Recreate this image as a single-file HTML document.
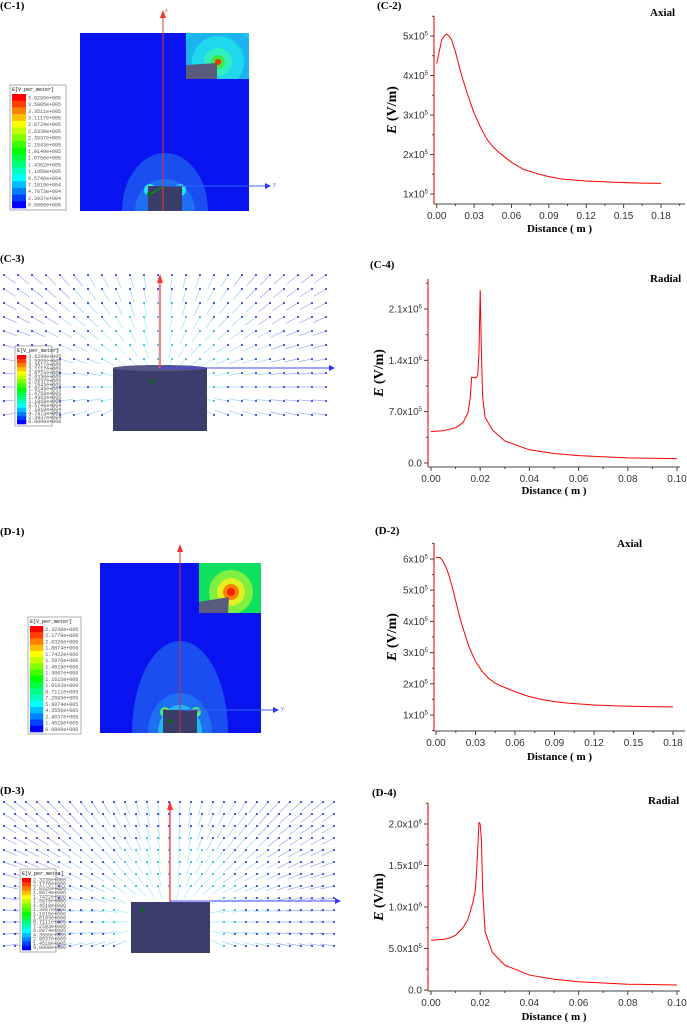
<!DOCTYPE html>
<html><head><meta charset="utf-8"><style>
html,body{margin:0;padding:0;background:#fff;}
svg{display:block;}
.tk{font-family:"Liberation Sans",sans-serif;font-size:10px;fill:#333;}
.lab{font-family:"Liberation Serif",serif;font-weight:bold;}
.lg{font-family:"Liberation Mono",monospace;font-size:5px;fill:#555;}
</style></head><body>
<svg id="fig" width="687" height="1024" viewBox="0 0 687 1024" xmlns="http://www.w3.org/2000/svg">
<defs>
<marker id="ar" markerWidth="6" markerHeight="6" refX="5" refY="3" orient="auto"><path d="M0,0 L6,3 L0,6 Z" fill="#33f"/></marker>
<clipPath id="c1"><rect x="80" y="33" width="169" height="178"/></clipPath>
<clipPath id="c1i"><rect x="186" y="33" width="63" height="46"/></clipPath>
<clipPath id="d1"><rect x="100" y="563" width="161" height="170"/></clipPath>
<clipPath id="d1i"><rect x="199" y="563" width="62" height="50"/></clipPath>
</defs>

<!-- C-1 -->
<g>
<text x="0" y="9" class="lab" font-size="11">(C-1)</text>
<rect x="80" y="33" width="169" height="178" fill="#0a14f0"/>
<g clip-path="url(#c1)">
<ellipse cx="165" cy="211" rx="43" ry="58" fill="#1a4ef0"/>
<ellipse cx="165" cy="211" rx="30" ry="32" fill="#1f6ff2"/>
<ellipse cx="150" cy="190" rx="6" ry="6" fill="#20e0ff"/>
<ellipse cx="180" cy="190" rx="6" ry="6" fill="#20e0ff"/>
<ellipse cx="150" cy="188" rx="2.5" ry="2.5" fill="#c0ff30"/>
<ellipse cx="180" cy="188" rx="2.5" ry="2.5" fill="#c0ff30"/>
<rect x="148" y="186" width="34" height="26" fill="#3a3d6a"/>
</g>
<rect x="186" y="33" width="63" height="46" fill="#18c8f0"/>
<g clip-path="url(#c1i)">
<circle cx="218" cy="62" r="38" fill="#1fa6f0" opacity="0.6"/>
<circle cx="218" cy="62" r="26" fill="#20d8ee"/>
<circle cx="218" cy="62" r="14" fill="#30f0c0"/>
<circle cx="218" cy="62" r="7" fill="#40e840"/>
<circle cx="218" cy="62" r="3" fill="#ff3000"/>
<path d="M186,65 L217,63 L217,79 L186,79 Z" fill="#5a5c7e"/>
</g>
<line x1="163" y1="211" x2="163" y2="12" stroke="#e33" stroke-width="1"/>
<path d="M160,18 L163,10 L166,18 Z" fill="#e33"/>
<text x="165" y="12" font-size="6" fill="#e33">z</text>
<line x1="163" y1="186" x2="270" y2="186" stroke="#36f" stroke-width="1" marker-end="url(#ar)"/>
<text x="273" y="186" font-size="6" fill="#36f">y</text>
<line x1="150" y1="194" x2="163" y2="187" stroke="#0a0" stroke-width="1"/>
<circle cx="149" cy="194" r="2" fill="#070"/>
<g id="leg1"></g>
</g>

<!-- C-3 -->
<g>
<text x="0" y="262" class="lab" font-size="11">(C-3)</text>
<g id="field1"></g>
<rect x="113" y="368" width="94" height="63" fill="#3b3d6d"/>
<ellipse cx="160" cy="368" rx="47" ry="3" fill="#55588a"/>
<line x1="160" y1="368" x2="160" y2="276" stroke="#f55" stroke-width="1.5"/>
<path d="M157,283 L160,274 L163,283 Z" fill="#f33"/>
<line x1="160" y1="368" x2="334" y2="368" stroke="#44f" stroke-width="1" marker-end="url(#ar)"/>
<circle cx="153" cy="381" r="1.8" fill="#070"/>
<g id="leg2"></g>
</g>

<!-- D-1 -->
<g>
<text x="0" y="535" class="lab" font-size="11">(D-1)</text>
<rect x="100" y="563" width="161" height="170" fill="#0a14f0"/>
<g clip-path="url(#d1)">
<ellipse cx="180" cy="733" rx="48" ry="92" fill="#1a4ef0"/>
<ellipse cx="180" cy="733" rx="32" ry="40" fill="#1f6ff2"/>
<ellipse cx="180" cy="733" rx="22" ry="28" fill="#1fb8f4"/>
<ellipse cx="165" cy="712" rx="5" ry="5" fill="#40f080"/>
<ellipse cx="196" cy="712" rx="5" ry="5" fill="#40f080"/>
<circle cx="165" cy="711" r="2" fill="#ff4000"/>
<circle cx="196" cy="711" r="2" fill="#ff4000"/>
<rect x="163" y="710" width="34" height="25" fill="#3a3d6a"/>
</g>
<rect x="199" y="563" width="62" height="50" fill="#10e060"/>
<g clip-path="url(#d1i)">
<circle cx="231" cy="592" r="22" fill="#80f040"/>
<circle cx="231" cy="592" r="14" fill="#e0f020"/>
<circle cx="231" cy="592" r="8" fill="#ff8000"/>
<circle cx="231" cy="592" r="4" fill="#f02000"/>
<path d="M199,602 L229,597 L228,613 L199,613 Z" fill="#5a5c7e"/>
</g>
<line x1="180" y1="733" x2="180" y2="547" stroke="#c33" stroke-width="1"/>
<path d="M177,552 L180,544 L183,552 Z" fill="#e33"/>
<line x1="180" y1="710" x2="278" y2="710" stroke="#36f" stroke-width="1" marker-end="url(#ar)"/>
<text x="281" y="710" font-size="6" fill="#36f">y</text>
<circle cx="170" cy="721" r="2" fill="#070"/>
<g id="leg3"></g>
</g>

<!-- D-3 -->
<g>
<text x="0" y="794" class="lab" font-size="11">(D-3)</text>
<g id="field2"></g>
<rect x="131" y="902" width="79" height="51" fill="#3b3d6d"/>
<line x1="170" y1="902" x2="170" y2="803" stroke="#f55" stroke-width="1.5"/>
<path d="M167,810 L170,801 L173,810 Z" fill="#f33"/>
<line x1="170" y1="901" x2="340" y2="901" stroke="#44f" stroke-width="1" marker-end="url(#ar)"/>
<circle cx="143" cy="910" r="1.8" fill="#070"/>
<g id="leg4"></g>
</g>

<g id="charts"></g>
</svg>
<script>
// ---- chart data ----
const c2X = [0,0.002,0.004,0.006,0.008,0.01,0.012,0.015,0.02,0.025,0.03,0.035,0.04,0.045,0.05,0.06,0.07,0.08,0.09,0.1,0.12,0.14,0.16,0.18];
const c2Y = [4.3,4.6,4.9,5.0,5.05,5.0,4.9,4.6,4.0,3.5,3.05,2.7,2.4,2.2,2.05,1.8,1.62,1.52,1.44,1.38,1.33,1.30,1.28,1.27];
const c4X = [0,0.005,0.01,0.013,0.015,0.016,0.0165,0.018,0.0185,0.019,0.0195,0.02,0.0205,0.021,0.022,0.025,0.03,0.04,0.05,0.06,0.08,0.1];
const c4Y = [0.43,0.44,0.48,0.55,0.68,0.9,1.17,1.16,1.17,1.2,1.5,2.35,1.5,0.9,0.62,0.45,0.30,0.18,0.13,0.1,0.07,0.06];
const d2X = [0,0.003,0.005,0.008,0.01,0.013,0.015,0.018,0.02,0.023,0.025,0.028,0.03,0.035,0.04,0.045,0.05,0.06,0.07,0.08,0.09,0.1,0.12,0.14,0.16,0.18];
const d2Y = [6.05,6.05,5.95,5.7,5.45,5.0,4.65,4.15,3.85,3.45,3.2,2.9,2.72,2.4,2.17,2.02,1.92,1.75,1.6,1.5,1.43,1.38,1.32,1.29,1.27,1.26];
const d4X = [0,0.005,0.008,0.01,0.013,0.015,0.017,0.018,0.0185,0.019,0.0195,0.02,0.0205,0.021,0.022,0.025,0.03,0.04,0.05,0.06,0.08,0.1];
const d4Y = [0.6,0.61,0.63,0.66,0.75,0.85,1.05,1.2,1.4,1.7,2.02,2.0,1.8,1.2,0.7,0.45,0.3,0.18,0.13,0.1,0.07,0.06];
const axialXTicks = [0,0.03,0.06,0.09,0.12,0.15,0.18];
const axialXLabels = ["0.00","0.03","0.06","0.09","0.12","0.15","0.18"];
const radialXTicks = [0,0.02,0.04,0.06,0.08,0.1];
const radialXLabels = ["0.00","0.02","0.04","0.06","0.08","0.10"];
const c2YTicks = [1,2,3,4,5];
const c2YLabels = [["1x10","5"],["2x10","5"],["3x10","5"],["4x10","5"],["5x10","5"]];
const d2YTicks = [1,2,3,4,5,6];
const d2YLabels = [["1x10","5"],["2x10","5"],["3x10","5"],["4x10","5"],["5x10","5"],["6x10","5"]];
const c4YTicks = [0,0.7,1.4,2.1];
const c4YLabels = [["0.0",""],["7.0x10","5"],["1.4x10","6"],["2.1x10","6"]];
const d4YTicks = [0,0.5,1,1.5,2];
const d4YLabels = [["0.0",""],["5.0x10","5"],["1.0x10","6"],["1.5x10","6"],["2.0x10","6"]];
const legendColors = ["#ff0000","#ff4000","#ff8000","#ffbf00","#ffff00","#bfff00","#80ff00","#40ff00","#00ff00","#00ff40","#00ff80","#00ffbf","#00ffff","#00bfff","#0080ff","#0040ff","#0000ff"];
const legC1 = ["3.8298e+005","3.5905e+005","3.3511e+005","3.1117e+005","2.8724e+005","2.6330e+005","2.3937e+005","2.1543e+005","1.9149e+005","1.6756e+005","1.4362e+005","1.1968e+005","9.5746e+004","7.1810e+004","4.7873e+004","2.3937e+004","0.0000e+000"];
const legD1 = ["2.3230e+006","2.1778e+006","2.0326e+006","1.8874e+006","1.7422e+006","1.5970e+006","1.4519e+006","1.3067e+006","1.1615e+006","1.0163e+006","8.7111e+005","7.2593e+005","5.8074e+005","4.3556e+005","2.9037e+005","1.4519e+005","0.0000e+000"];

const NS="http://www.w3.org/2000/svg";
function mk(tag,attrs,parent){const e=document.createElementNS(NS,tag);for(const k in attrs)e.setAttribute(k,attrs[k]);parent.appendChild(e);return e;}

function chart(cfg){
  const g=mk('g',{},document.getElementById('charts'));
  
  
  const sx=v=>cfg.px0+(v-cfg.xmin)/(cfg.xmax-cfg.xmin)*(cfg.px1-cfg.px0);
  const sy=v=>cfg.py0+(v-cfg.vy0)/(cfg.vy1-cfg.vy0)*(cfg.py1-cfg.py0);
  const xa=mk('line',{x1:cfg.ax,y1:cfg.ab,x2:cfg.ar,y2:cfg.ab,stroke:'#444','stroke-width':1},g);
  
  
  const ya=mk('line',{x1:cfg.ax,y1:cfg.at,x2:cfg.ax,y2:cfg.ab,stroke:'#e22','stroke-width':1.2},g);
  
  
  const step=cfg.xt[1]-cfg.xt[0];
  for(let i=0;i<cfg.xt.length;i++){
    const x=sx(cfg.xt[i]);
    mk('line',{x1:x,y1:cfg.ab,x2:x,y2:cfg.ab+4,stroke:'#444'},g);
    const m=sx(cfg.xt[i]+step/2);
    if(m<cfg.ar) mk('line',{x1:m,y1:cfg.ab,x2:m,y2:cfg.ab+2,stroke:'#444'},g);
    const t=mk('text',{x:x,y:cfg.ab+15,'text-anchor':'middle',class:'tk'},g);
    t.textContent=cfg.xl[i];
    
    
  }
  const ystep=cfg.yt[1]-cfg.yt[0];
  for(let i=0;i<cfg.yt.length;i++){
    const y=sy(cfg.yt[i]);
    mk('line',{x1:cfg.ax-4,y1:y,x2:cfg.ax,y2:y,stroke:'#444'},g);
    const m=sy(cfg.yt[i]+ystep/2);
    if(m>cfg.at) mk('line',{x1:cfg.ax-2,y1:m,x2:cfg.ax,y2:m,stroke:'#444'},g);
    if(i==0){const m0=sy(cfg.yt[0]-ystep/2); if(m0<cfg.ab) mk('line',{x1:cfg.ax-2,y1:m0,x2:cfg.ax,y2:m0,stroke:'#444'},g);}
    const t=mk('text',{x:cfg.ax-6,y:y+3.5,'text-anchor':'end',class:'tk'},g);
    
    
    const a=mk('tspan',{},t);a.textContent=cfg.yl[i][0];
    if(cfg.yl[i][1]){const b=mk('tspan',{dy:-4,'font-size':6},t);b.textContent=cfg.yl[i][1];}
  }
  let d='';
  for(let i=0;i<cfg.X.length;i++){d+=(i?'L':'M')+sx(cfg.X[i]).toFixed(2)+','+sy(cfg.Y[i]).toFixed(2);}
  const p=mk('path',{d:d,fill:'none',stroke:'#f00','stroke-width':1,'stroke-linejoin':'round'},g);
  
  
  const ttl=mk('text',{x:cfg.tx,y:cfg.ty,class:'lab','font-size':11},g);ttl.textContent=cfg.title;
  
  
  const pl=mk('text',{x:cfg.plx,y:cfg.ply,class:'lab','font-size':11},g);pl.textContent=cfg.panel;
  
  
  const xl=mk('text',{x:(cfg.ax+cfg.ar)/2,y:cfg.xly,'text-anchor':'middle',class:'lab','font-size':11},g);xl.textContent='Distance ( m )';
  
  
  const cy=(cfg.at+cfg.ab)/2;
  const yl=mk('text',{x:0,y:0,transform:`translate(${cfg.ylx},${cy}) rotate(-90)`,'text-anchor':'middle',class:'lab','font-size':14},g);
  
  
  const e=mk('tspan',{'font-style':'italic'},yl);e.textContent='E';
  const r=mk('tspan',{},yl);r.textContent=' (V/m)';
}
chart({name:'chart-c2-axial',X:c2X,Y:c2Y,xmin:0,xmax:0.18,px0:436.7,px1:661,vy0:1,vy1:5,py0:194,py1:36,ax:434,at:16,ab:204,ar:685,xt:axialXTicks,xl:axialXLabels,yt:c2YTicks,yl:c2YLabels,title:'Axial',tx:650,ty:16,panel:'(C-2)',plx:377,ply:9,xly:232,ylx:396});
chart({name:'chart-c4-radial',X:c4X,Y:c4Y,xmin:0,xmax:0.1,px0:431,px1:677,vy0:0,vy1:2.1,py0:463,py1:309,ax:428,at:279,ab:467,ar:680,xt:radialXTicks,xl:radialXLabels,yt:c4YTicks,yl:c4YLabels,title:'Radial',tx:650,ty:282,panel:'(C-4)',plx:370,ply:268,xly:494,ylx:383});
chart({name:'chart-d2-axial',X:d2X,Y:d2Y,xmin:0,xmax:0.18,px0:436,px1:673,vy0:1,vy1:6,py0:715,py1:559,ax:434,at:543,ab:731,ar:685,xt:axialXTicks,xl:axialXLabels,yt:d2YTicks,yl:d2YLabels,title:'Axial',tx:617,ty:547,panel:'(D-2)',plx:375,ply:534,xly:760,ylx:396});
chart({name:'chart-d4-radial',X:d4X,Y:d4Y,xmin:0,xmax:0.1,px0:431,px1:677,vy0:0,vy1:2,py0:990,py1:824,ax:428,at:803,ab:991,ar:680,xt:radialXTicks,xl:radialXLabels,yt:d4YTicks,yl:d4YLabels,title:'Radial',tx:648,ty:804,panel:'(D-4)',plx:372,ply:796,xly:1020,ylx:383});

function legend(id,x,y,w,h,labels){
  const g=document.getElementById(id);
  
  
  mk('rect',{x:x,y:y,width:w,height:h,fill:'#fff',stroke:'#999','stroke-width':0.8},g);
  const t=mk('text',{x:x+2,y:y+6,class:'lg','font-weight':'bold'},g);t.textContent='E[V_per_meter]';
  const top=y+9,cell=(h-11)/legendColors.length,cw=w*0.25;
  for(let i=0;i<legendColors.length;i++){
    mk('rect',{x:x+2,y:top+i*cell,width:cw,height:cell+0.3,fill:legendColors[i]},g);
    const l=mk('text',{x:x+cw+4,y:top+i*cell+cell*0.8,class:'lg','font-size':Math.min(5,cell*0.85)},g);l.textContent=labels[i];
  }
}
legend('leg1',10,85,56,125,legC1);
legend('leg2',15,346,37,80,legC1);
legend('leg3',28,617,53,117,legD1);
legend('leg4',20,869,36,83,legD1);

function field(id,x0,x1,y0,y1,cx,cy,dx,dy,cw,ch){
  const g=document.getElementById(id);
  
  
  for(let y=y0;y<=y1;y+=dy){
    for(let x=x0;x<=x1;x+=dx){
      if(x>cx-cw/2-6&&x<cx+cw/2+6&&y>cy-6) continue;
      let vx=x-cx,vy=y-cy-20;const L=Math.hypot(vx,vy)||1;vx/=L;vy/=L;
      const near=Math.hypot(x-cx,y-cy);
      const col=near<70?'#40d8e8':(near<120?'#3aa8f0':'#4050f0');
      const len=14;
      mk('line',{x1:x,y1:y,x2:x-vx*len,y2:y-vy*len,stroke:col,'stroke-width':0.7,opacity:0.5},g);
      mk('circle',{cx:x,cy:y,r:1,fill:near<70?'#20b0d0':'#1a28d8'},g);
    }
  }
}
field('field1',4,336,275,425,160,368,14,14,94);
field('field2',4,340,802,948,170,902,11,12,79);
</script>
</body></html>
